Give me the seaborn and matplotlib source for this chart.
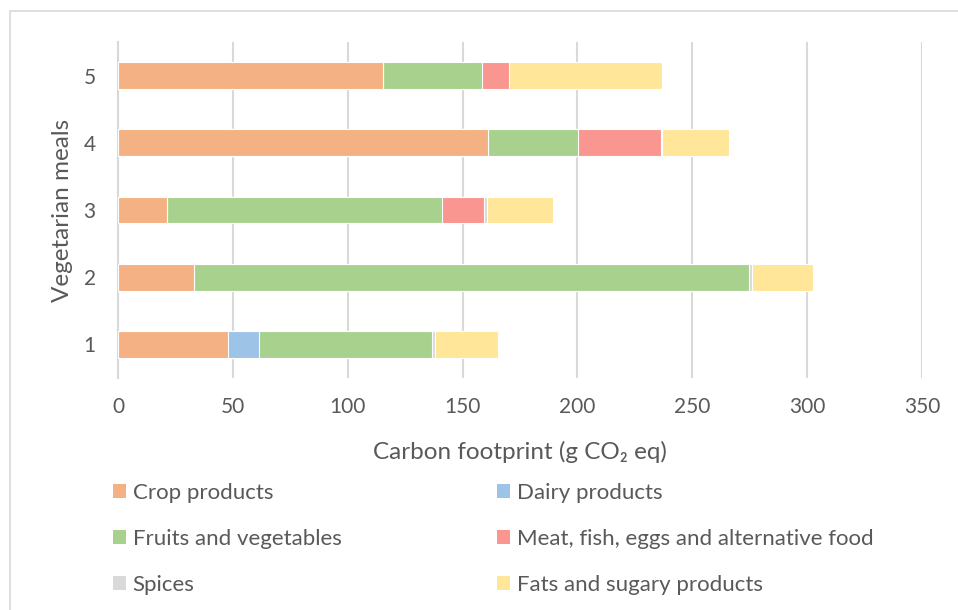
import matplotlib
matplotlib.use("Agg")
import matplotlib.pyplot as plt
from matplotlib.patches import Patch
from matplotlib.lines import Line2D
import seaborn as sns
import pandas as pd
import numpy as np

# --- dados ---
meals = ["1", "2", "3", "4", "5"]
categories = ["Crop products", "Dairy products", "Fruits and vegetables",
              "Meat, fish, eggs and alternative food", "Spices", "Fats and sugary products"]
crop = [47.9, 33.0, 21.4, 160.9, 115.4]
dairy = [13.6, 0.0, 0.0, 0.0, 0.0]
fruits = [75.4, 241.6, 119.6, 39.4, 43.0]
meat = [0.0, 0.0, 18.4, 36.0, 12.0]
spices = [1.3, 1.2, 1.2, 0.7, 0.0]
fats = [27.1, 26.9, 28.8, 28.8, 66.3]
x_ticks = [0, 50, 100, 150, 200, 250, 300, 350]

colors = ["#F4B183", "#9DC3E6", "#A9D18E", "#F8968F", "#D9D9D9", "#FFE699"]
text_color = "#595959"

sns.set_style("white")
plt.rcParams["font.family"] = ["Lato", "DejaVu Sans"]

fig = plt.figure(figsize=(9.58, 6.10), dpi=100)
ax = fig.add_axes([118 / 958, 1 - 378 / 610, (922 - 118) / 958, (378 - 42) / 610])

# empilhado: desenha os totais acumulados do maior para o menor
series = [crop, dairy, fruits, meat, spices, fats]
cum = np.cumsum(np.array(series), axis=0)
order = meals[::-1]
for i in range(len(series) - 1, -1, -1):
    df = pd.DataFrame({"meal": meals, "value": cum[i]})
    sns.barplot(data=df, x="value", y="meal", order=order, orient="h",
                color=colors[i], width=0.4, edgecolor="white", linewidth=0.8,
                saturation=1, ax=ax, zorder=3)

ax.set_xlim(0, 350)
ax.set_ylim(4.5, -0.5)
ax.set_xticks(x_ticks)
ax.grid(axis="x", color="#D9D9D9", linewidth=1.5, zorder=0)
ax.set_axisbelow(True)
for s in ["top", "right", "bottom"]:
    ax.spines[s].set_visible(False)
ax.spines["left"].set_color("#D9D9D9")
ax.spines["left"].set_linewidth(1.5)
ax.tick_params(axis="both", length=0, labelsize=15, labelcolor=text_color)
ax.tick_params(axis="x", pad=14)
ax.tick_params(axis="y", pad=16)
ax.set_xlabel("Carbon footprint (g CO₂ eq)", fontsize=17.5, color=text_color, labelpad=17)
ax.set_ylabel("Vegetarian meals", fontsize=17.5, color=text_color, labelpad=8)

# legenda: duas colunas como duas legendas separadas
leg_kw = dict(loc="upper left", frameon=False, fontsize=16, labelcolor=text_color,
              handlelength=0.6, handleheight=0.6, handletextpad=0.28,
              labelspacing=1.17, borderaxespad=0, borderpad=0)
for col, x0 in [([0, 2, 4], 113), ([1, 3, 5], 497)]:
    handles = [Patch(facecolor=colors[i], edgecolor="none") for i in col]
    labels = [categories[i] for i in col]
    fig.legend(handles, labels, bbox_to_anchor=(x0 / 958, 1 - 483 / 610), **leg_kw)

# borda do gráfico
fig.add_artist(Line2D([10 / 958, 1], [1 - 11 / 610, 1 - 11 / 610], color="#D9D9D9", linewidth=1.2))
fig.add_artist(Line2D([10 / 958, 10 / 958], [0, 1 - 11 / 610], color="#D9D9D9", linewidth=1.2))

fig.savefig("out.png", dpi=100)
